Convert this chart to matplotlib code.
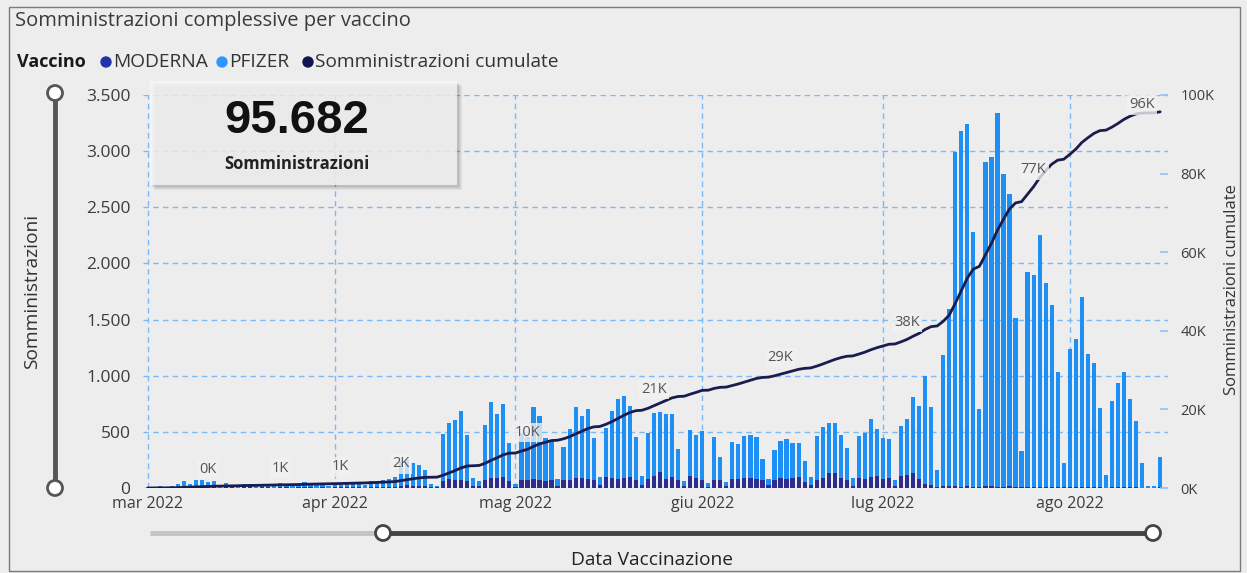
import numpy as np
import pandas as pd
import matplotlib
matplotlib.use("Agg")
import matplotlib.pyplot as plt
from matplotlib.patches import Rectangle, Circle

# ---------------- data ----------------
start_date = "2022-03-01"

moderna = [
    0, 0, 5, 0, 5,
    5, 10, 5, 10, 10, 5, 10,
    0, 5, 5, 0, 5, 5, 0, 5, 5, 0, 5, 5, 0, 5, 10, 5, 0, 5, 0, 5, 5, 5, 10, 5, 0, 10, 5, 10,
    10, 10,
    20, 25, 20, 15, 15, 5, 5,
    60, 80, 75, 70, 65, 20, 15, 75, 90, 90, 100, 60, 10, 75, 70,
    80, 70, 65, 70, 20, 70, 75, 90, 85, 80, 70, 30, 95, 85, 80, 90, 95, 70, 30, 80, 110,
    145, 80, 95, 75, 15, 110, 85, 75, 10, 75, 70, 15, 80, 80, 90, 85, 80, 70, 25, 75, 85,
    80, 90, 95, 55, 25, 70, 85, 130, 135, 90, 70, 20, 90, 80, 95, 110, 80, 90, 20, 105, 120,
    130, 80, 40, 30, 10, 20, 15, 15, 10, 15, 10, 5, 15, 15, 10, 10, 15, 10, 5, 10, 10,
    10, 10, 10, 5, 5, 10, 10, 10, 5, 5, 5, 0, 5, 5, 5, 5, 5, 0, 0, 0, 5,
]

pfizer = [
    10, 5, 10, 10, 15,
    35, 50, 30, 60, 65, 45, 55,
    20, 40, 25, 25, 35, 30, 15, 25, 35, 25, 40, 25, 20, 30, 40, 35, 25, 30, 20, 40, 25, 35, 45, 30, 25, 50, 40, 60,
    70, 85,
    215, 225, 200, 190, 145, 35, 15,
    418, 502, 530, 616, 407, 66, 47, 486, 673, 566, 645, 338, 26, 412, 387,
    644, 574, 377, 357, 57, 298, 447, 634, 556, 621, 372, 71, 435, 603, 712, 729, 635, 387, 80, 413, 561,
    535, 576, 561, 272, 50, 406, 387, 435, 32, 382, 203, 41, 332, 312, 376, 387, 377, 188, 52, 263, 333,
    353, 308, 308, 188, 76, 393, 455, 446, 441, 382, 283, 66, 373, 413, 519, 412, 362, 343, 51, 447, 494,
    677, 650, 960, 688, 154, 1165, 1577, 2975, 3170, 3225, 2270, 700, 2885, 2935, 3330, 2790, 2605, 1508, 328, 1910, 1890,
    2240, 1820, 1620, 1028, 218, 1225, 1320, 1690, 1191, 1105, 709, 119, 769, 932, 1028, 790, 590, 223, 21, 15, 269,
]

month_ticks = ["2022-03-01", "2022-04-01", "2022-05-01", "2022-06-01", "2022-07-01", "2022-08-01"]
month_labels = ["mar 2022", "apr 2022", "mag 2022", "giu 2022", "lug 2022", "ago 2022"]
left_ticks = [0, 500, 1000, 1500, 2000, 2500, 3000, 3500]
left_labels = ["0", "500", "1.000", "1.500", "2.000", "2.500", "3.000", "3.500"]
right_ticks = [0, 20000, 40000, 60000, 80000, 100000]
right_labels = ["0K", "20K", "40K", "60K", "80K", "100K"]
label_days = [10, 22, 32, 42, 63, 84, 105, 126, 147, 168]
kpi_value = "95.682"
kpi_label = "Somministrazioni"

# ---------------- styling ----------------
W, H = 1247, 573
BG = "#ededed"
C_MOD = "#2c2d8e"
C_PFI = "#1e8ff5"
C_CUM = "#1a1c4e"
C_GRID = "#7cbaf5"
C_TXT = "#3c3c3c"
FONT = ["Open Sans", "DejaVu Sans"]
plt.rcParams["font.family"] = FONT

fig = plt.figure(figsize=(W / 100, H / 100), dpi=100)
fig.patch.set_facecolor(BG)

def fx(px):
    return px / W

def fy(py):
    return 1 - py / H

dates = pd.date_range(start_date, periods=len(pfizer), freq="D")
mod = np.array(moderna)
pfi = np.array(pfizer)
cum = np.cumsum(mod + pfi)

L, R, T, B = 143, 1168, 95, 488
ax = fig.add_axes([fx(L), fy(B), fx(R - L), (B - T) / H])
ax.patch.set_alpha(0)
for s in ax.spines.values():
    s.set_visible(False)

bw = 0.7
ax.bar(dates, mod, width=bw, color=C_MOD, zorder=3)
ax.bar(dates, pfi, width=bw, bottom=mod, color=C_PFI, zorder=3)

x0 = pd.Timestamp(start_date)
ax.set_xlim(x0 - pd.Timedelta(hours=0.8 * 24), x0 + pd.Timedelta(hours=169.3 * 24))
ax.set_ylim(0, 3500)
ax.set_yticks(left_ticks)
ax.set_yticklabels(left_labels)
ax.set_xticks(pd.to_datetime(month_ticks))
ax.set_xticklabels(month_labels)
ax.tick_params(axis="both", length=0, colors=C_TXT)
ax.tick_params(axis="y", pad=9, labelsize=12.5)
ax.tick_params(axis="x", pad=6, labelsize=11.5)
ax.grid(True, which="major", axis="both", color=C_GRID, lw=1.0, ls=(0, (4, 3)), zorder=1)
ax.set_axisbelow(True)

ax2 = ax.twinx()
for s in ax2.spines.values():
    s.set_visible(False)
ax2.plot(dates, cum, color=C_CUM, lw=2.0, zorder=5, solid_capstyle="round")
ax2.set_ylim(0, 100000)
ax2.set_yticks(right_ticks)
ax2.set_yticklabels(right_labels)
ax2.tick_params(axis="y", direction="in", length=6, width=1.2, color="#8cc4ff",
                labelsize=10.5, labelcolor=C_TXT, pad=9)

for i, d in enumerate(label_days):
    v = cum[d]
    txt = f"{int(round(v / 1000.0))}K"
    if i == len(label_days) - 1:
        off, ha = (-4, 5), "right"
    else:
        off, ha = (0, 12), "center"
    ax2.annotate(txt, (dates[d], v), xytext=off, textcoords="offset points",
                 ha=ha, va="center", fontsize=10.5, color="#555555", zorder=6,
                 bbox=dict(boxstyle="square,pad=0.15", fc="#f1f1f1", ec="none", alpha=0.8))

# ---------------- overlay: texts, sliders, card ----------------
ov = fig.add_axes([0, 0, 1, 1], zorder=10)
ov.set_xlim(0, W)
ov.set_ylim(H, 0)
ov.axis("off")
ov.patch.set_alpha(0)

# border
ov.add_patch(Rectangle((9, 7), 1231, 564, fill=False, ec="#7a7a7a", lw=1.0))

# title
ov.text(15, 21, "Somministrazioni complessive per vaccino", fontsize=14.5, color="#3a3a3a",
        ha="left", va="center")

# legend
ov.text(17, 62, "Vaccino", fontsize=13, fontweight="bold", color="#1a1a1a", ha="left", va="center")
leg = [(106, "MODERNA", "#2233a8"), (222, "PFIZER", "#2b98ff"), (308, "Somministrazioni cumulate", "#121650")]
for xdot, name, col in leg:
    ov.add_patch(Circle((xdot, 62), 5, color=col))
    ov.text(xdot + 7, 62, name, fontsize=13.8, color="#333333", ha="left", va="center")

# axis titles
ov.text(32, 291, "Somministrazioni", fontsize=13.8, color="#333333", rotation=90,
        ha="center", va="center")
ov.text(1232, 290, "Somministrazioni cumulate", fontsize=12, color="#333333", rotation=90,
        ha="center", va="center")
ov.text(652, 560, "Data Vaccinazione", fontsize=13.8, color="#222222", ha="center", va="center")

# vertical slider
ov.plot([55, 55], [95, 488], color="#555555", lw=3.5, solid_capstyle="butt", zorder=2)
for yy in (93, 488):
    ov.add_patch(Circle((55, yy), 7.5, fc="white", ec="#555555", lw=2, zorder=3))

# horizontal slider
ov.plot([150, 383], [533, 533], color="#c4c4c4", lw=3.5, solid_capstyle="butt", zorder=2)
ov.plot([383, 1153], [533, 533], color="#444444", lw=3.5, solid_capstyle="butt", zorder=2)
for xx in (383, 1153):
    ov.add_patch(Circle((xx, 533), 7.5, fc="white", ec="#444444", lw=2, zorder=3))

# KPI card with soft shadow
for k, a in enumerate([0.05, 0.05, 0.05, 0.06]):
    o = 5 - k
    ov.add_patch(Rectangle((150 + o, 81 + o), 307, 104, fc="#000000", ec="none", alpha=a, zorder=4))
ov.add_patch(Rectangle((150, 81), 307, 104, fc="#f6f6f6", ec="none", alpha=0.8, zorder=5))
ov.text(297, 121, kpi_value, fontsize=34, fontweight="bold", color="#111111",
        family=["Liberation Sans", "DejaVu Sans"], ha="center", va="center", zorder=6)
ov.text(297, 164, kpi_label, fontsize=12, fontweight="bold", color="#222222",
        ha="center", va="center", zorder=6)

fig.savefig("out.png", dpi=100, facecolor=BG)
